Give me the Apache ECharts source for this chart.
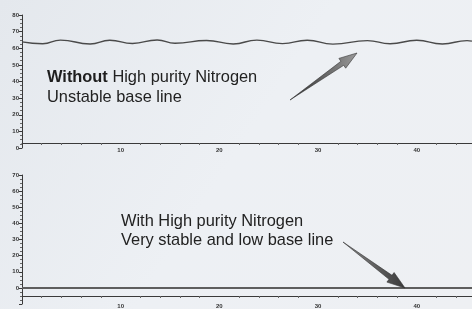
<!DOCTYPE html>
<html lang="en">
<head>
    <meta charset="utf-8">
    <title>baseline</title>
    <script src="https://cdn.jsdelivr.net/npm/echarts@6/dist/echarts.min.js"></script>
    <style>
        html, body { margin: 0; padding: 0; }
        #chart { width: 472px; height: 309px; }
    </style>
</head>
<body>
<div id="chart"></div>

<script>
    // top trace: wavy baseline (x in minutes, y in signal units)
    var waveX = [0, 2.1, 3.9, 6.9, 8.9, 11.2, 13.7, 15.5, 18.7, 21.4, 23.8, 26.4, 28.9, 31.5, 35.0, 37.3, 40.0, 42.6, 45.1, 45.6];
    var waveY = [63.8, 62.7, 64.9, 62.6, 64.8, 62.9, 65.0, 63.0, 64.7, 62.6, 64.9, 62.8, 64.8, 62.5, 64.6, 62.7, 64.8, 62.6, 64.6, 64.3];
    // bottom trace: flat baseline
    var flatX = [0, 45.6];
    var flatY = [0, 0];

    var xMax = 45.6;
    var topYMax = 80;
    var bottomYMin = -10;
    var bottomYMax = 70;

    function pairs(xs, ys) {
        return xs.map(function (x, i) { return [x, ys[i]]; });
    }

    var axisCol = '#3a3a3a';
    var tickLabel = { fontSize: 6, fontWeight: 'bold', color: '#333', margin: 3 };

    function xAx(idx, off, labelMargin) {
        return {
            type: 'value', gridIndex: idx, min: 0, max: xMax, interval: 10,
            offset: off,
            axisLine: { onZero: false, lineStyle: { color: axisCol, width: 1 } },
            axisTick: { show: false },
            minorTick: { show: true, splitNumber: 5, length: 2, lineStyle: { color: '#666' } },
            axisLabel: Object.assign({ showMinLabel: false, showMaxLabel: false }, tickLabel, { margin: labelMargin }),
            splitLine: { show: false }
        };
    }
    function yAx(idx, mn, mx) {
        return {
            type: 'value', gridIndex: idx, min: mn, max: mx, interval: 10,
            axisLine: { show: true, lineStyle: { color: axisCol, width: 1 } },
            axisTick: { show: true, length: 3, lineStyle: { color: axisCol } },
            minorTick: { show: true, splitNumber: 4, length: 2, lineStyle: { color: '#666' } },
            axisLabel: Object.assign({ showMaxLabel: true, showMinLabel: mn === 0 }, tickLabel),
            splitLine: { show: false }
        };
    }

    function arrow(pts, c1, c2) {
        return {
            type: 'polygon',
            shape: { points: pts },
            style: {
                fill: new echarts.graphic.LinearGradient(0, 0, 1, 0, [
                    { offset: 0, color: c1 }, { offset: 1, color: c2 }
                ]),
                stroke: '#333', lineWidth: 0.6
            },
            z: 10
        };
    }

    var chart = echarts.init(document.getElementById('chart'));
    chart.setOption({
        animation: false,
        backgroundColor: new echarts.graphic.LinearGradient(0, 0, 1, 1, [
            { offset: 0, color: '#e4e8ed' },
            { offset: 0.5, color: '#edf0f4' },
            { offset: 1, color: '#eef0f3' }
        ]),
        grid: [
            { left: 22, top: 15, width: 450, height: 133 },
            { left: 22, top: 175, width: 450, height: 136 }
        ],
        xAxis: [xAx(0, -5, 4), xAx(1, -8, 7)],
        yAxis: [yAx(0, 0, topYMax), yAx(1, bottomYMin, bottomYMax)],
        series: [
            {
                type: 'line', xAxisIndex: 0, yAxisIndex: 0,
                data: pairs(waveX, waveY), smooth: 0.5, symbol: 'none',
                lineStyle: { color: '#4a4a4a', width: 1.4 }
            },
            {
                type: 'line', xAxisIndex: 1, yAxisIndex: 1,
                data: pairs(flatX, flatY), symbol: 'none',
                lineStyle: { color: '#5e5e5e', width: 2 }
            }
        ],
        graphic: [
            {
                type: 'text', left: 47, top: 67, z: 10,
                style: {
                    text: '{b|Without} High purity Nitrogen\nUnstable base line',
                    font: '16.4px "Liberation Sans", Arial, sans-serif',
                    fill: '#222', lineHeight: 20,
                    rich: { b: { fontWeight: 'bold', fontSize: 16.4, fill: '#1e1e1e' } }
                }
            },
            {
                type: 'text', left: 121, top: 212, z: 10,
                style: {
                    text: 'With High purity Nitrogen\nVery stable and low base line',
                    font: '16.4px "Liberation Sans", Arial, sans-serif',
                    fill: '#222', lineHeight: 19
                }
            },
            arrow([[290, 100], [343.7, 65.3], [345.7, 68.2], [357, 53], [338.9, 58.4], [340.9, 61.3]], '#2e2e2e', '#9a9a9a'),
            arrow([[343, 242], [392.0, 275.3], [394.1, 272.5], [405, 288], [386.9, 282.1], [389.0, 279.3]], '#8a8a8a', '#3a3a3a')
        ]
    });
</script>
</body>
</html>
